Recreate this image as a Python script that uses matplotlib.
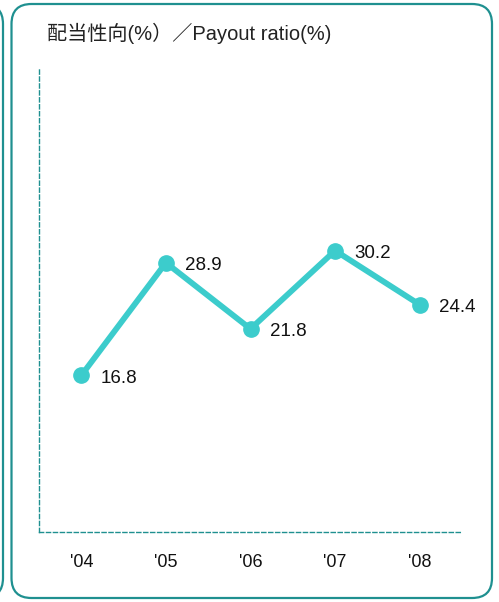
import matplotlib
matplotlib.use('Agg')
import matplotlib.pyplot as plt
from matplotlib.patches import FancyBboxPatch

years = ["'04", "'05", "'06", "'07", "'08"]
payout = [16.8, 28.9, 21.8, 30.2, 24.4]
title = '配当性向(%）／Payout ratio(%)'

plt.rcParams['font.family'] = ['Liberation Sans', 'Noto Sans CJK JP', 'DejaVu Sans']

W, H = 499, 602
fig = plt.figure(figsize=(W / 100, H / 100), dpi=100)

border = '#1f9090'
line_col = '#3ccccc'

# rounded panel boxes (pixel coords -> figure fraction)
def add_box(x0, y0, x1, y1, r):
    box = FancyBboxPatch((x0 / W, 1 - y1 / H), (x1 - x0) / W, (y1 - y0) / H,
                         boxstyle=f'round,pad=0,rounding_size={r / W}',
                         transform=fig.transFigure, fill=False,
                         edgecolor=border, linewidth=1.6, clip_on=False,
                         mutation_aspect=W / H)
    fig.patches.append(box)

add_box(11.5, 4, 492, 598, 20)
add_box(-400, 4, 3, 598, 20)

fig.text(47 / W, 1 - 33 / H, title, fontsize=14.5, color='#222222', va='center', ha='left')

ax = fig.add_axes([39 / W, 1 - 532 / H, (462 - 39) / W, (532 - 68) / H])
x = list(range(len(years)))
ax.plot(x, payout, color=line_col, linewidth=4.2, marker='o', markersize=11,
        solid_capstyle='round', zorder=3)
for xi, v in zip(x, payout):
    ax.annotate(f'{v}', (xi, v), xytext=(14, -2), textcoords='offset points',
                fontsize=13.5, color='#111111', va='center', ha='left')

ax.set_xlim(-0.5, 4.5)
ax.set_ylim(0, 49.8)
ax.set_xticks(x)
ax.set_xticklabels(years, fontsize=13, color='#111111')
ax.set_yticks([])
ax.tick_params(axis='x', length=0, pad=16)
for s in ['top', 'right']:
    ax.spines[s].set_visible(False)
for s in ['left', 'bottom']:
    ax.spines[s].set_color(border)
    ax.spines[s].set_linestyle((0, (3, 2)))
    ax.spines[s].set_linewidth(1.0)
ax.patch.set_alpha(0)

fig.savefig('out.png', dpi=100)
